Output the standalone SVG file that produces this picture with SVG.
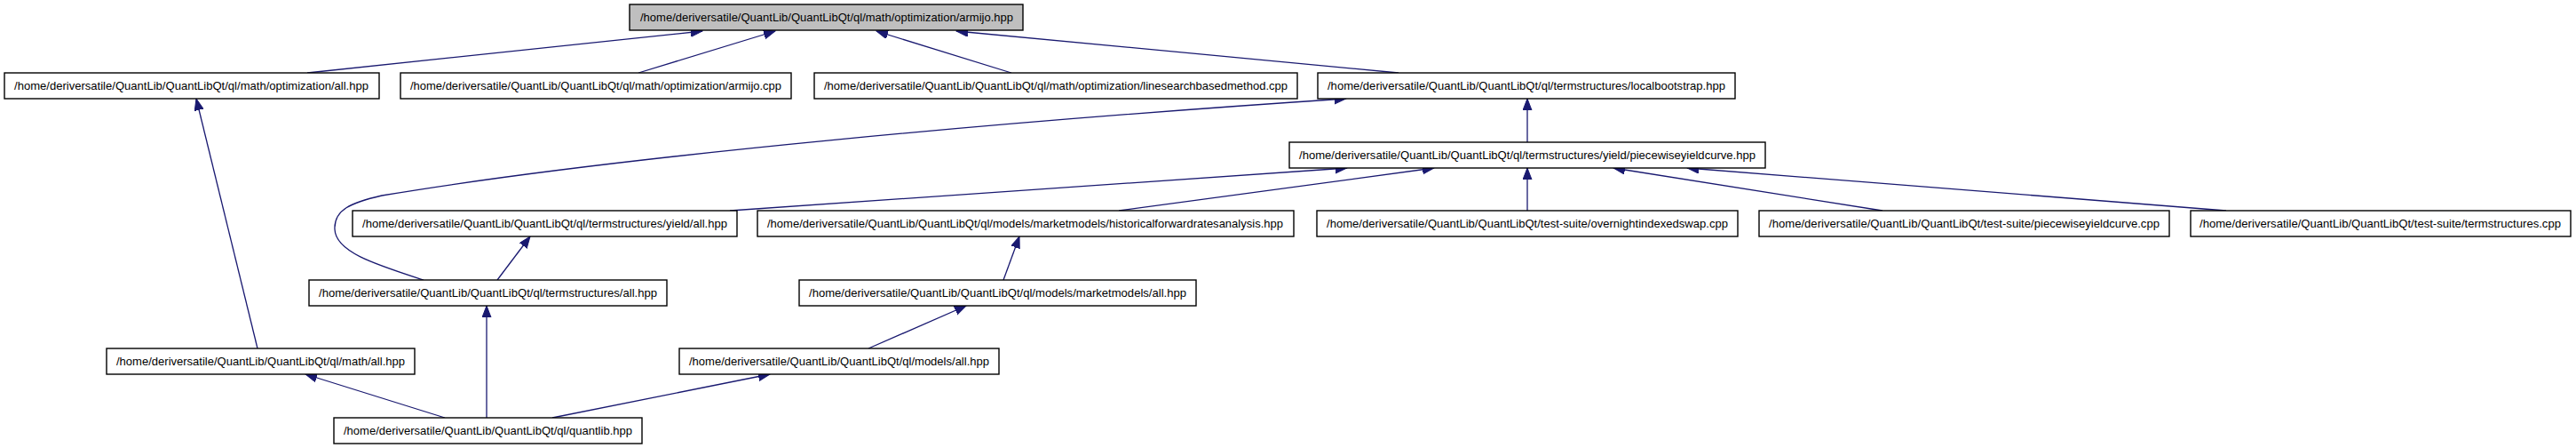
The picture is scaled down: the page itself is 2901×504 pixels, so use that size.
<svg xmlns="http://www.w3.org/2000/svg" width="2901" height="504" viewBox="0 0 2901 504">
<style>
.n rect{fill:#ffffff;stroke:#000000;stroke-width:1.4}
.n.g rect{fill:#bfbfbf}
.n text{font-family:"Liberation Sans",Arial,sans-serif;font-size:13.5px;fill:#000000}
.e path,.e line{fill:none;stroke:#191970;stroke-width:1.3;marker-end:url(#ah)}
</style>
<defs>
<marker id="ah" markerUnits="userSpaceOnUse" markerWidth="14" markerHeight="12" refX="13" refY="5" orient="auto">
<path d="M0,0 L13,5 L0,10 z" fill="#191970" stroke="#191970" stroke-width="1"/>
</marker>
</defs>
<rect width="2901" height="504" fill="#ffffff"/>
<g id="connectors" class="e">
<line x1="346" y1="82" x2="791" y2="35"/>
<line x1="719" y1="82" x2="873" y2="35"/>
<line x1="1139" y1="82" x2="987" y2="35"/>
<line x1="1575" y1="82" x2="1077" y2="35"/>
<line x1="1720" y1="160" x2="1720" y2="111"/>
<path d="M477,315 C425,298 378,284 377,258 C376,236 395,228 430,220 C700,175 1150,135 1516,111"/>
<line x1="822" y1="237" x2="1517" y2="189"/>
<line x1="1260" y1="237" x2="1615" y2="189"/>
<line x1="1720" y1="237" x2="1720" y2="189"/>
<line x1="2120" y1="237" x2="1817" y2="189"/>
<line x1="2507" y1="237" x2="1900" y2="189"/>
<line x1="560" y1="315" x2="597" y2="266"/>
<line x1="1130" y1="315" x2="1148" y2="266"/>
<line x1="978" y1="392" x2="1088" y2="344"/>
<line x1="290" y1="392" x2="221" y2="111"/>
<line x1="501" y1="470" x2="344" y2="421"/>
<line x1="548" y1="470" x2="548" y2="344"/>
<line x1="622" y1="470" x2="867" y2="421"/>
</g>
<g id="n1" class="n g"><rect x="709" y="5" width="443" height="29"/><text x="721" y="24" textLength="420" lengthAdjust="spacingAndGlyphs">/home/deriversatile/QuantLib/QuantLibQt/ql/math/optimization/armijo.hpp</text></g>
<g id="n2" class="n"><rect x="5" y="82" width="422" height="29"/><text x="16" y="101" textLength="399" lengthAdjust="spacingAndGlyphs">/home/deriversatile/QuantLib/QuantLibQt/ql/math/optimization/all.hpp</text></g>
<g id="n3" class="n"><rect x="451" y="82" width="440" height="29"/><text x="462" y="101" textLength="418" lengthAdjust="spacingAndGlyphs">/home/deriversatile/QuantLib/QuantLibQt/ql/math/optimization/armijo.cpp</text></g>
<g id="n4" class="n"><rect x="917" y="82" width="544" height="29"/><text x="928" y="101" textLength="522" lengthAdjust="spacingAndGlyphs">/home/deriversatile/QuantLib/QuantLibQt/ql/math/optimization/linesearchbasedmethod.cpp</text></g>
<g id="n5" class="n"><rect x="1484" y="82" width="470" height="29"/><text x="1495" y="101" textLength="448" lengthAdjust="spacingAndGlyphs">/home/deriversatile/QuantLib/QuantLibQt/ql/termstructures/localbootstrap.hpp</text></g>
<g id="n6" class="n"><rect x="1452" y="160" width="536" height="29"/><text x="1463" y="179" textLength="514" lengthAdjust="spacingAndGlyphs">/home/deriversatile/QuantLib/QuantLibQt/ql/termstructures/yield/piecewiseyieldcurve.hpp</text></g>
<g id="n7" class="n"><rect x="397" y="237" width="433" height="29"/><text x="408" y="256" textLength="411" lengthAdjust="spacingAndGlyphs">/home/deriversatile/QuantLib/QuantLibQt/ql/termstructures/yield/all.hpp</text></g>
<g id="n8" class="n"><rect x="853" y="237" width="604" height="29"/><text x="864" y="256" textLength="581" lengthAdjust="spacingAndGlyphs">/home/deriversatile/QuantLib/QuantLibQt/ql/models/marketmodels/historicalforwardratesanalysis.hpp</text></g>
<g id="n9" class="n"><rect x="1483" y="237" width="474" height="29"/><text x="1494" y="256" textLength="452" lengthAdjust="spacingAndGlyphs">/home/deriversatile/QuantLib/QuantLibQt/test-suite/overnightindexedswap.cpp</text></g>
<g id="n10" class="n"><rect x="1981" y="237" width="462" height="29"/><text x="1992" y="256" textLength="440" lengthAdjust="spacingAndGlyphs">/home/deriversatile/QuantLib/QuantLibQt/test-suite/piecewiseyieldcurve.cpp</text></g>
<g id="n11" class="n"><rect x="2467" y="237" width="428" height="29"/><text x="2477" y="256" textLength="407" lengthAdjust="spacingAndGlyphs">/home/deriversatile/QuantLib/QuantLibQt/test-suite/termstructures.cpp</text></g>
<g id="n12" class="n"><rect x="348" y="315" width="403" height="29"/><text x="359" y="334" textLength="381" lengthAdjust="spacingAndGlyphs">/home/deriversatile/QuantLib/QuantLibQt/ql/termstructures/all.hpp</text></g>
<g id="n13" class="n"><rect x="900" y="315" width="447" height="29"/><text x="911" y="334" textLength="425" lengthAdjust="spacingAndGlyphs">/home/deriversatile/QuantLib/QuantLibQt/ql/models/marketmodels/all.hpp</text></g>
<g id="n14" class="n"><rect x="120" y="392" width="347" height="29"/><text x="131" y="411" textLength="325" lengthAdjust="spacingAndGlyphs">/home/deriversatile/QuantLib/QuantLibQt/ql/math/all.hpp</text></g>
<g id="n15" class="n"><rect x="765" y="392" width="360" height="29"/><text x="776" y="411" textLength="338" lengthAdjust="spacingAndGlyphs">/home/deriversatile/QuantLib/QuantLibQt/ql/models/all.hpp</text></g>
<g id="n16" class="n"><rect x="376" y="470" width="347" height="29"/><text x="387" y="489" textLength="325" lengthAdjust="spacingAndGlyphs">/home/deriversatile/QuantLib/QuantLibQt/ql/quantlib.hpp</text></g>
</svg>
